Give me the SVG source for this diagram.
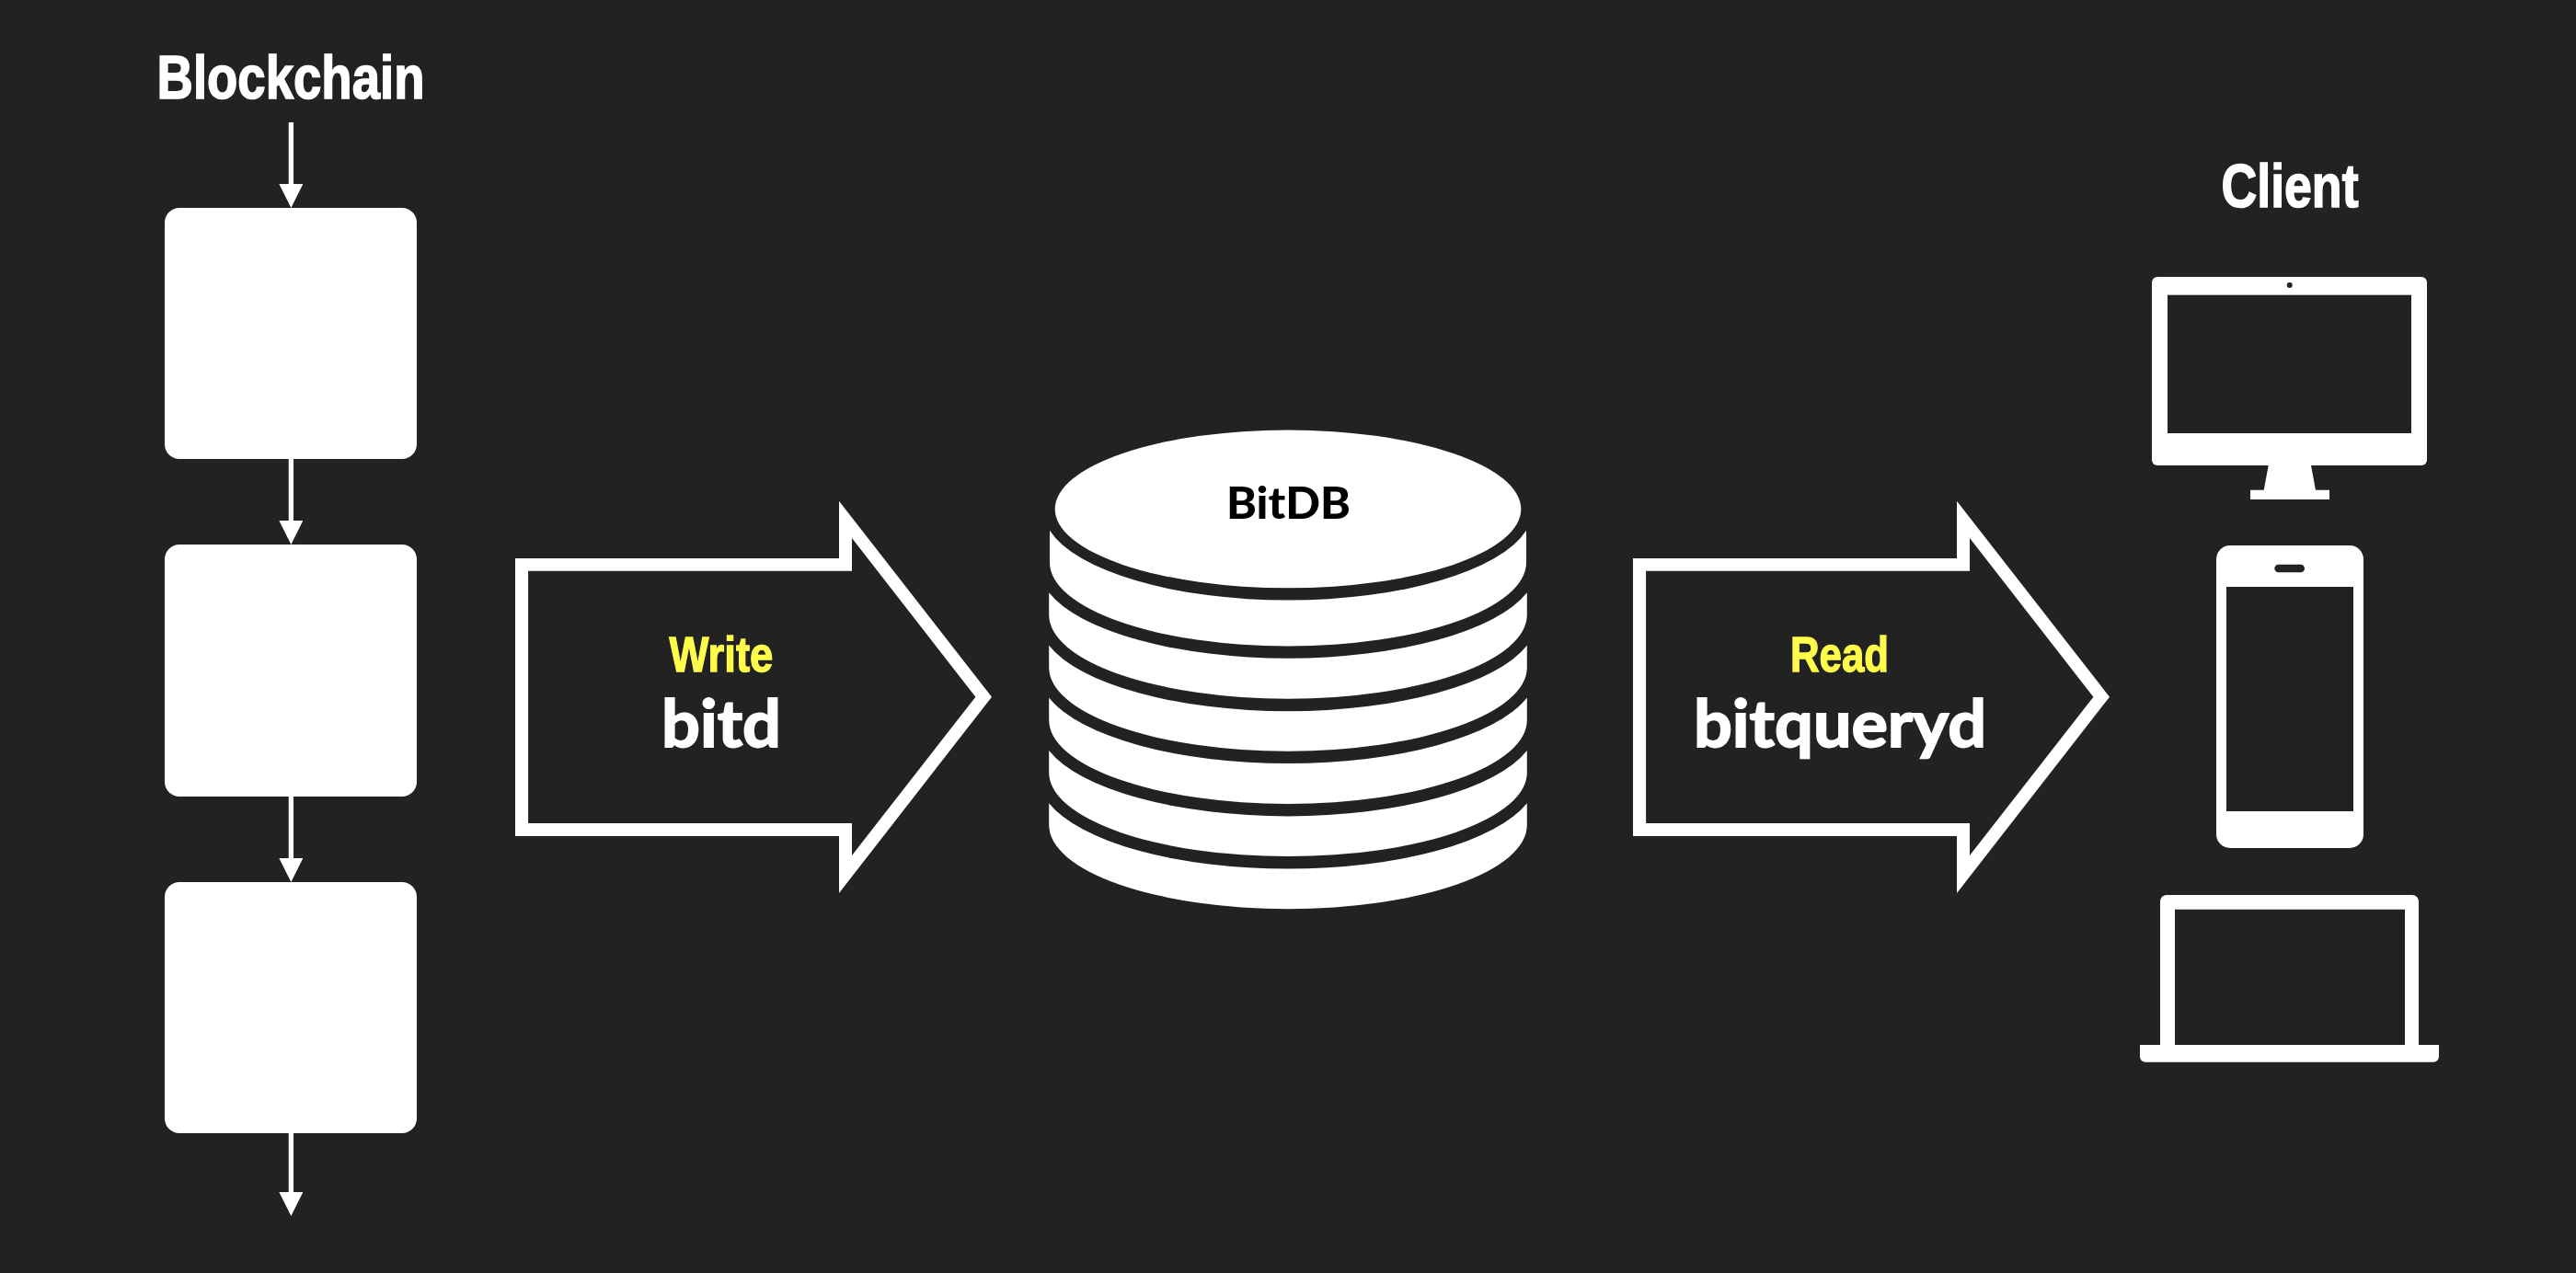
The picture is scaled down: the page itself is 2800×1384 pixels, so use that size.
<svg xmlns="http://www.w3.org/2000/svg" width="2800" height="1384" viewBox="0 0 2800 1384">
  <style>
    .w { fill: #fff; }
    .bg { fill: #222; }
    .cond { font-family: "Liberation Sans", Arial, sans-serif; font-weight: 700; }
    .title { font-size: 66px; fill: #fff; stroke: #fff; stroke-width: 1.6px; }
    .verb { font-size: 54px; fill: #fffb4b; stroke: #fffb4b; stroke-width: 1.3px; }
    .geo { font-family: Lato, "Open Sans", sans-serif; font-weight: 700; }
    .daemon { font-size: 70px; fill: #fff; stroke: #fff; stroke-width: 1.8px; }
    .line { stroke: #fff; stroke-width: 5.3; fill: none; }
  </style>
  <defs>
    <marker id="head" markerUnits="userSpaceOnUse" markerWidth="26" markerHeight="26" refX="0" refY="13" orient="auto">
      <path d="M0 0L26 13L0 26Z" fill="#fff"/>
    </marker>
    <path id="hollow" fill-rule="evenodd" d="M560 607H912V544.7L1078 757.7L912 971V909H560ZM574.1 620.7V895H926V930L1060.4 757.7L926 585V620.7Z"/>
  </defs>
  <rect class="bg" width="2800" height="1384"/>

  <g id="connectors">
    <line class="line" x1="316.4" y1="133" x2="316.4" y2="200" marker-end="url(#head)"/>
    <line class="line" x1="316.4" y1="499" x2="316.4" y2="566" marker-end="url(#head)"/>
    <line class="line" x1="316.4" y1="866" x2="316.4" y2="933" marker-end="url(#head)"/>
    <line class="line" x1="316.4" y1="1232" x2="316.4" y2="1296" marker-end="url(#head)"/>
  </g>

  <g id="label-blockchain"><text class="cond title" x="170.5" y="107" textLength="291" lengthAdjust="spacingAndGlyphs">Blockchain</text></g>
  <g id="block-1"><rect class="w" x="179" y="226" width="274" height="273" rx="16"/></g>
  <g id="block-2"><rect class="w" x="179" y="592" width="274" height="274" rx="16"/></g>
  <g id="block-3"><rect class="w" x="179" y="959" width="274" height="273" rx="16"/></g>

  <g id="write-arrow">
    <use href="#hollow" class="w"/>
    <text class="cond verb" x="727.4" y="730" textLength="113" lengthAdjust="spacingAndGlyphs">Write</text>
    <text class="geo daemon" x="719" y="811.7" textLength="130" lengthAdjust="spacingAndGlyphs">bitd</text>
  </g>

  <g id="read-arrow">
    <use href="#hollow" class="w" x="1215"/>
    <text class="cond verb" x="1946" y="730" textLength="107" lengthAdjust="spacingAndGlyphs">Read</text>
    <text class="geo daemon" x="1841" y="811.7" textLength="318" lengthAdjust="spacingAndGlyphs">bitqueryd</text>
  </g>

  <g id="bitdb">
    <path class="w" d="M1141 576.8A266.5 99.1 0 0 0 1659 576.8V611.4A259 91.1 0 0 1 1141 611.4Z"/>
    <path class="w" d="M1140.2 644.3A270.6 99.1 0 0 0 1659.8 644.3V668.6A259.8 91.1 0 0 1 1140.2 668.6Z"/>
    <path class="w" d="M1140.2 701.8A270.6 99.1 0 0 0 1659.8 701.8V725.7A259.8 91.1 0 0 1 1140.2 725.7Z"/>
    <path class="w" d="M1140.2 758.6A270.6 99.1 0 0 0 1659.8 758.6V782.9A259.8 91.1 0 0 1 1140.2 782.9Z"/>
    <path class="w" d="M1140.2 816A270.6 99.1 0 0 0 1659.8 816V840A259.8 91.1 0 0 1 1140.2 840Z"/>
    <path class="w" d="M1140.2 873.2A270.6 99.1 0 0 0 1659.8 873.2V897.1A259.8 91.1 0 0 1 1140.2 897.1Z"/>
    <ellipse class="w" cx="1400" cy="553.4" rx="253.3" ry="85.9"/>
    <text class="geo" x="1333" y="563.9" font-size="48" fill="#000" textLength="135" lengthAdjust="spacingAndGlyphs" style="font-weight:900">BitDB</text>
  </g>

  <g id="label-client"><text class="cond title" x="2414.5" y="225" textLength="149" lengthAdjust="spacingAndGlyphs">Client</text></g>

  <g id="monitor">
    <rect class="w" x="2339" y="301" width="299" height="205" rx="6"/>
    <rect class="bg" x="2356" y="320.7" width="265" height="150.3"/>
    <circle class="bg" cx="2488.7" cy="310" r="3"/>
    <path class="w" d="M2465.7 506H2512L2517 532.7H2532V543H2446V532.7H2460.7Z"/>
  </g>

  <g id="phone">
    <rect class="w" x="2409" y="593" width="160" height="329" rx="15"/>
    <rect class="bg" x="2420" y="638" width="138" height="244"/>
    <rect class="bg" x="2472.3" y="613.7" width="32.7" height="8.6" rx="4.3"/>
  </g>

  <g id="laptop">
    <path class="w" fill-rule="evenodd" d="M2348 1136V980A7 7 0 0 1 2355 973H2622A7 7 0 0 1 2629 980V1136ZM2364 988.7V1136H2614V988.7Z"/>
    <path class="w" d="M2326 1136H2651V1148.7A6 6 0 0 1 2645 1154.7H2332A6 6 0 0 1 2326 1148.7Z"/>
  </g>
</svg>
